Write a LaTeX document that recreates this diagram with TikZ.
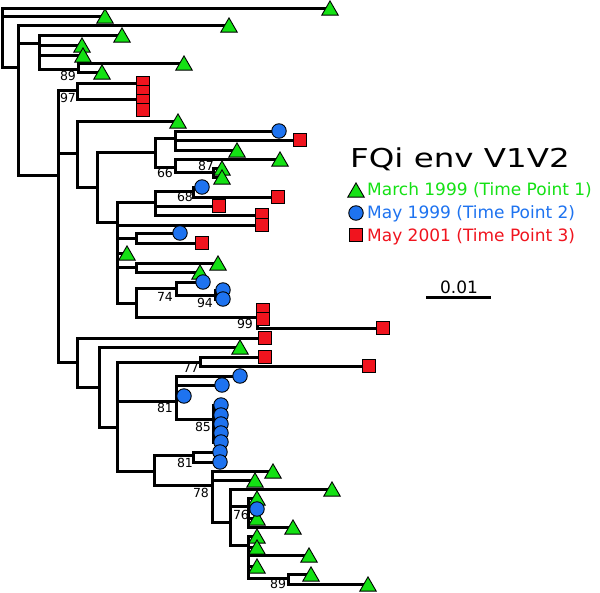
\documentclass[tikz,border=0pt]{standalone}
\usepackage{fontspec}
\setmainfont{DejaVu Sans}
\usetikzlibrary{shapes.geometric}
\definecolor{tpgreen}{RGB}{20,225,20}
\definecolor{tpblue}{RGB}{30,115,240}
\definecolor{tpred}{RGB}{240,20,30}
\tikzset{
  br/.style={line width=3pt, line join=miter},
  tri/.style={regular polygon, regular polygon sides=3, minimum size=19pt, inner sep=0pt, fill=tpgreen, draw=black, line width=0.9pt, yshift=-2.4pt},
  circ/.style={circle, minimum size=14.5pt, inner sep=0pt, fill=tpblue, draw=black, line width=0.9pt},
  sq/.style={rectangle, minimum size=12.5pt, inner sep=0pt, fill=tpred, draw=black, line width=0.9pt},
  bs/.style={font=\fontsize{12.5}{13}\selectfont, inner sep=0pt},
  leg/.style={font=\fontsize{17}{20}\selectfont, anchor=base west, inner sep=0pt},
}
\begin{document}
\begin{tikzpicture}[x=1pt,y=-1pt]
\useasboundingbox[fill=white] (0,0) rectangle (600,592);
% internal nodes
\foreach \n/\x/\y in {root/2/30, A/18/67, B/39/43, n89a/78/69, C/58/175, n97/77/90, n97b/137/99,
  D/77/153, Sn/97/187, Tn/155/152, F/175/138, G/175/167, n87/213/172,
  H/117/222, I/155/202, n68/193/191, J/136/238, K/136/267, L/136/303, n74/176/288, n94/215/295, n99/257/317,
  E/77/362, R/99/387, N/117/427, n77/200/362, n81a/176/401, n85/213/419, M/154/471, n81b/193/455,
  n78/212/485, P/230/522, n76/248/506, Q/248/545, n89b/288/578}
  \coordinate (\n) at (\x,\y);
% leaves: triangles
\foreach \n/\x/\y in {a1/330/8, a2/105/16, a3/229/25, a4/122/35, a5/82/45, a6/83/55, a7/184/63, a8/102/72,
  a9/178/121, a10/237/150, a11/280/159, a12/222/168, a13/222/177, a14/127/253, a15/218/263, a16/200/272,
  a17/240/347, a18/273/471, a19/255/480, a20/332/489, a21/257/498, a22/257/518, a23/293/527,
  a24/257/536, a25/257/547, a26/309/555, a27/257/566, a28/311/574, a29/368/584}
  \coordinate (\n) at (\x,\y);
% leaves: circles
\foreach \n/\x/\y in {b1/279/131, b2/202/187, b3/180/233, b4/203/282, b5/223/290, b6/223/299,
  b7/240/376, b8/222/385, b9/184/396, b10/221/405, b11/221/415, b12/221/424, b13/221/433, b14/221/442,
  b15/220/452, b16/220/462, b17/257/509}
  \coordinate (\n) at (\x,\y);
% leaves: squares
\foreach \n/\x/\y in {c1/143/83, c2/143/92, c3/143/101, c4/143/110, c5/300/140, c6/278/197, c7/219/206,
  c8/262/215, c9/262/225, c10/202/243, c11/263/310, c12/263/319, c13/383/328, c14/265/338,
  c15/265/357, c16/369/366}
  \coordinate (\n) at (\x,\y);
% branches
\foreach \p/\c in {root/a1, root/a2, root/A, A/a3, A/B, A/C, B/a4, B/a5, B/a6, B/n89a, n89a/a7, n89a/a8,
  C/n97, C/D, C/E, n97/c1, n97/n97b, n97b/c2, n97b/c3, n97b/c4,
  D/a9, D/Sn, Sn/Tn, Sn/H, Tn/F, Tn/G, F/b1, F/c5, F/a10, G/a11, G/n87, n87/a12, n87/a13,
  H/I, H/c9, H/J, H/a14, H/K, H/L, I/n68, I/c7, I/c8, n68/b2, n68/c6, J/b3, J/c10, K/a15, K/a16,
  L/n74, L/n99, n74/b4, n74/n94, n94/b5, n94/b6, n99/c11, n99/c12, n99/c13,
  E/c14, E/R, R/a17, R/N, N/n77, N/n81a, N/M, n77/c15, n77/c16,
  n81a/b7, n81a/b8, n81a/b9, n81a/n85, n85/b10, n85/b11, n85/b12, n85/b13, n85/b14,
  M/n81b, M/n78, n81b/b15, n81b/b16, n78/a18, n78/a19, n78/P, P/a20, P/n76, P/Q,
  n76/a21, n76/b17, n76/a22, n76/a23, Q/a24, Q/a25, Q/a26, Q/a27, Q/n89b, n89b/a28, n89b/a29}
  \draw[br] (\p) |- (\c);
% markers
\foreach \n in {a1,a2,a3,a4,a5,a6,a7,a8,a9,a10,a11,a12,a13,a14,a15,a16,a17,a18,a19,a20,a21,a22,a23,a24,a25,a26,a27,a28,a29}
  \node[tri] (m\n) at (\n) {};
\foreach \n in {b1,b2,b3,b4,b5,b6,b7,b8,b9,b10,b11,b12,b13,b14,b15,b16,b17}
  \node[circ] (m\n) at (\n) {};
\foreach \n in {c1,c2,c3,c4,c5,c6,c7,c8,c9,c10,c11,c12,c13,c14,c15,c16}
  \node[sq] (m\n) at (\n) {};
% bootstrap labels
\node[bs] (l89a) at (68,76) {89};
\node[bs] (l97) at (68,98) {97};
\node[bs] (l66) at (165,173) {66};
\node[bs] (l87) at (206,166) {87};
\node[bs] (l68) at (185,197) {68};
\node[bs] (l74) at (165,297) {74};
\node[bs] (l94) at (205,303) {94};
\node[bs] (l99) at (245,324) {99};
\node[bs] (l77) at (191,368) {77};
\node[bs] (l81a) at (165,408) {81};
\node[bs] (l85) at (203,427) {85};
\node[bs] (l81b) at (185,463) {81};
\node[bs] (l78) at (201,493) {78};
\node[bs] (l76) at (241,515) {76};
\node[bs] (l89b) at (278,584) {89};
% title and legend
\node[anchor=base, inner sep=0pt] (title) at (460,167) {\scalebox{1.25}[1]{\fontsize{26}{30}\selectfont FQi env V1V2}};
\node[tri] (lg1) at (356,190) {};
\node[circ] (lg2) at (356,213) {};
\node[sq] (lg3) at (356,235) {};
\node[leg, text=tpgreen] (lt1) at (367,195) {March 1999 (Time Point 1)};
\node[leg, text=tpblue] (lt2) at (367,218) {May 1999 (Time Point 2)};
\node[leg, text=tpred] (lt3) at (367,241) {May 2001 (Time Point 3)};
% scale bar
\coordinate (sb1) at (426,297);
\coordinate (sb2) at (491,297);
\draw[br] (sb1) -- (sb2);
\node[anchor=base, inner sep=0pt, font=\fontsize{17}{20}\selectfont] (sbl) at (459,293) {0.01};
\end{tikzpicture}
\end{document}
